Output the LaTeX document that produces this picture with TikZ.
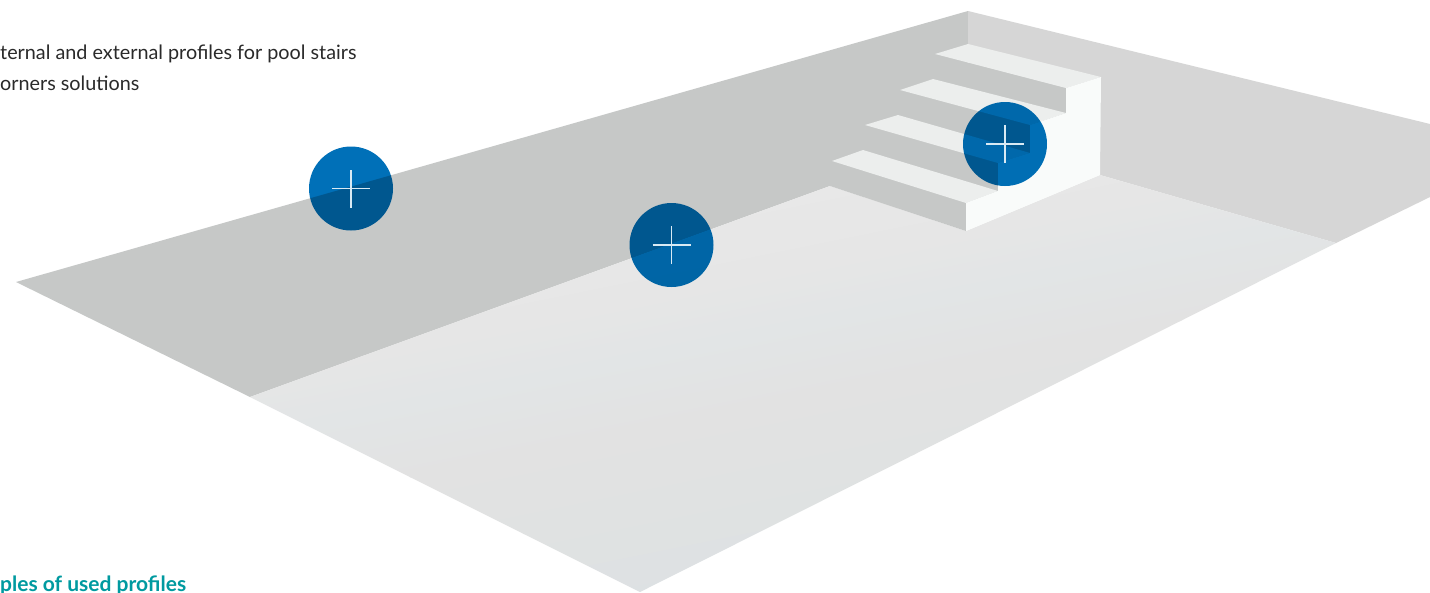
\documentclass[tikz,border=0pt]{standalone}
\usepackage{fontspec}
\setmainfont{Lato}
\definecolor{wallL}{HTML}{C6C8C7}
\definecolor{wallR}{HTML}{D6D6D6}
\definecolor{tread}{HTML}{ECEEED}
\definecolor{sidew}{HTML}{F9FBFA}
\definecolor{floorA}{HTML}{E8E8E8}
\definecolor{floorB}{HTML}{E6E6E6}
\definecolor{floorC}{HTML}{E2E5E6}
\definecolor{floorD}{HTML}{E2E2E2}
\definecolor{floorE}{HTML}{E0E2E2}
\definecolor{floorF}{HTML}{DDE1E3}
\definecolor{pin}{HTML}{0070B8}
\definecolor{teal}{HTML}{009AA0}
\definecolor{ink}{HTML}{2A2A2A}
\tikzset{
  pinball/.style={circle,fill=pin,minimum size=84pt,inner sep=0pt,blend mode=multiply},
  crossline/.style={draw=white!85!pin,line width=1.3pt},
  bodytext/.style={anchor=base west,inner sep=0pt,font=\fontsize{19.8}{24}\selectfont,text=ink},
  headtext/.style={anchor=base west,inner sep=0pt,font=\fontsize{21}{24}\selectfont\bfseries,text=teal},
}
\begin{document}
\begin{tikzpicture}[x=1pt,y=-1pt]
\useasboundingbox (0,0) rectangle (1430,592);
\fill[white] (0,0) rectangle (1430,592);
% walls
\fill[wallL] (16,282) -- (968,11) -- (968,60) -- (830,186) -- (250,397) -- cycle;
\fill[wallR] (968,11) -- (1430,124) -- (1430,197) -- (1336,243) -- (1100,175) -- (1000,100) -- (968,60) -- cycle;
% floor: bands running parallel, rotated 11.5 degrees
\begin{scope}
  \clip (250,397) -- (830,186) -- (966,231) -- (1100,175) -- (1336,243) -- (640,592) -- cycle;
  \begin{scope}[transform canvas={rotate around={11.5:(0,0)}}]
    \shade[top color=floorA,bottom color=floorB] (-300,340) rectangle (1900,422);
    \shade[top color=floorB,bottom color=floorC] (-300,421) rectangle (1900,478);
    \shade[top color=floorC,bottom color=floorD] (-300,477) rectangle (1900,550);
    \shade[top color=floorD,bottom color=floorE] (-300,549) rectangle (1900,628);
    \shade[top color=floorE,bottom color=floorF] (-300,627) rectangle (1900,715);
  \end{scope}
\end{scope}
% stairs
\fill[wallL] (932,53) -- (1066,88) -- (1066,113) -- (1030,125) -- (1030,153) -- (998,163) -- (998,191) -- (966,203) -- (966,231) -- (830,186) -- (832,161) -- (865,125) -- (900,90) -- cycle;
\fill[tread] (935,54) -- (968,44) -- (1101,77) -- (1066,88) -- cycle;
\fill[tread] (900,90) -- (933,79) -- (1066,113) -- (1030,125) -- cycle;
\fill[tread] (865,125) -- (898,115) -- (1030,153) -- (998,163) -- cycle;
\fill[tread] (832,161) -- (863,150) -- (998,191) -- (966,203) -- cycle;
\fill[sidew] (1101,77) -- (1100,175) -- (966,231) -- (966,203) -- (998,191) -- (998,163) -- (1030,153) -- (1030,125) -- (1066,113) -- (1066,88) -- cycle;
% markers
\node[pinball] (p1) at (351,188.5) {};
\node[pinball] (p2) at (671.5,245) {};
\node[pinball] (p3) at (1005,144) {};
\foreach \n in {p1,p2,p3}{
  \draw[crossline] ([xshift=-19pt]\n.center) -- ([xshift=19pt]\n.center);
  \draw[crossline] ([yshift=-19pt]\n.center) -- ([yshift=19pt]\n.center);
}
% text
\node[bodytext] (t1) at (0,59) {ternal and external profiles for pool stairs};
\node[bodytext] (t2) at (0,90) {orners solutions};
\node[headtext] (t3) at (0,591) {ples of used profiles};
\end{tikzpicture}
\end{document}
